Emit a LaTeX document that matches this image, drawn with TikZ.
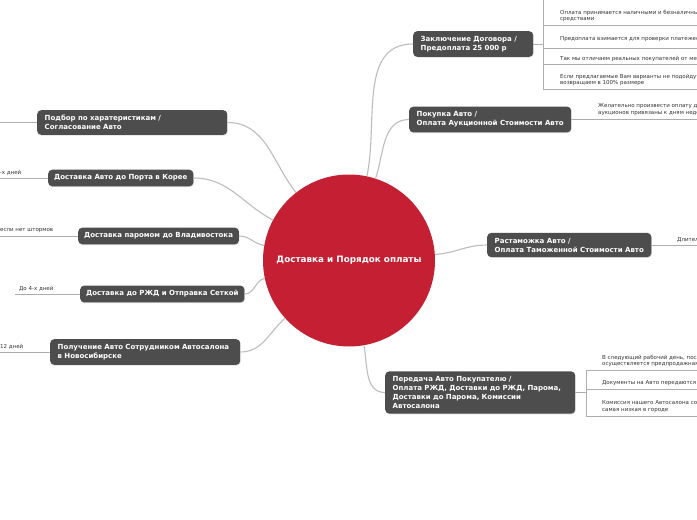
\documentclass[tikz,border=0pt]{standalone}
\usepackage{fontspec}
\setmainfont{DejaVu Sans}
\usetikzlibrary{shadows}
\definecolor{MapRed}{HTML}{C41F33}
\definecolor{MapTopic}{HTML}{4D4D4D}
\definecolor{MapLink}{HTML}{BDBDBD}
\definecolor{MapRule}{HTML}{ADADAD}
\definecolor{MapNote}{HTML}{333333}

\begin{document}
\begin{tikzpicture}[x=1pt,y=1pt,
  hub/.style={circle,fill=MapRed,minimum size=172pt,inner sep=0pt,text=white,font=\fontsize{8.8}{11}\selectfont\bfseries},
  topic/.style={fill=MapTopic,rounded corners=4pt,text=white,align=left,inner xsep=7.5pt,inner ysep=5pt,anchor=west,font=\fontsize{7}{9}\selectfont\bfseries,drop shadow={opacity=0.25,shadow xshift=0.5pt,shadow yshift=-0.8pt}},
  slim/.style={inner xsep=6pt},
  note/.style={anchor=west,inner sep=0pt,align=left,text=MapNote,font=\fontsize{5.5}{6.8}\selectfont},
  link/.style={draw=MapLink,line width=1.1pt},
  rule/.style={draw=MapRule,line width=0.6pt},
]
\useasboundingbox (0,0) rectangle (697,-520);
\fill[white] (0,0) rectangle (697,-520);
\clip (0,0) rectangle (697,-520);

\node[hub] (hub) at (349,-260.5) {\raisebox{-1.5pt}{Доставка и Порядок оплаты}};

\node[topic,text width=105pt] (dogovor) at (413,-44) {Заключение Договора /\\Предоплата 25 000 р};
\node[topic] (pokupka) at (409,-119.5) {Покупка Авто /\\Оплата Аукционной Стоимости Авто};
\node[topic] (rastam) at (487,-245) {Растаможка Авто /\\Оплата Таможенной Стоимости Авто};
\node[topic,text width=175pt] (peredacha) at (385,-392.5) {Передача Авто Покупателю /\\Оплата РЖД, Доставки до РЖД, Парома,\\Доставки до Парома, Комиссии\\Автосалона};

\node[topic,text width=175pt] (podbor) at (37,-122.5) {Подбор по харатеристикам /\\Согласование Авто};
\node[topic,slim] (portkorea) at (48,-178) {Доставка Авто до Порта в Корее};
\node[topic,slim] (parom) at (78,-236) {Доставка паромом до Владивостока};
\node[topic,slim] (rzd) at (80,-294) {Доставка до РЖД и Отправка Сеткой};
\node[topic,text width=175pt] (poluchenie) at (50,-352) {Получение Авто Сотрудником Автосалона\\в Новосибирске};

\draw[link] (hub.78) to[out=78,in=180] (dogovor.west);
\draw[link] (hub.72) to[out=72,in=180] (pokupka.west);
\draw[link] (hub.4) to[out=4,in=180] (rastam.west);
\draw[link] (hub.-80) to[out=-80,in=180] (peredacha.west);
\draw[link] (podbor.east) to[out=0,in=128] (hub.128);
\draw[link] (portkorea.east) to[out=0,in=152] (hub.152);
\draw[link] (parom.east) to[out=0,in=170] (hub.170);
\draw[link] (rzd.east) to[out=0,in=192] (hub.192);
\draw[link] (poluchenie.east) to[out=0,in=222] (hub.222);

\coordinate (dogovorBar) at (543,-44);
\draw[rule] (dogovor.east) -- (dogovorBar);
\draw[rule] (543,0) -- (543,-89);
\foreach \yy in {25,48,64,89}
  \draw[rule] (543,-\yy) -- (697,-\yy);
\node[note] (pay1) at (560,-16) {Оплата принимается наличными и безналичными\\средствами};
\node[note] (pay2) at (560,-39) {Предоплата взимается для проверки платежеспособности};
\node[note] (pay3) at (560,-58.5) {Так мы отличаем реальных покупателей от мечтателей};
\node[note] (pay4) at (560,-80) {Если предлагаемые Вам варианты не подойдут,\\возвращаем в 100\% размере};

\coordinate (pokupkaEnd) at (697,-119.5);
\draw[rule] (pokupka.east) -- (pokupkaEnd);
\node[note] (auction) at (598,-109.5) {Желательно произвести оплату до\\аукционов привязаны к дням недели};

\coordinate (rastamEnd) at (697,-245);
\draw[rule] (rastam.east) -- (rastamEnd);
\node[note] (customs) at (677,-239.5) {Длительность};

\coordinate (peredachaBar) at (586,-392.5);
\draw[rule] (peredacha.east) -- (peredachaBar);
\draw[rule] (586,-370) -- (586,-416);
\foreach \yy in {370,389,416}
  \draw[rule] (586,-\yy) -- (697,-\yy);
\node[note] (hand1) at (602,-361) {В следующий рабочий день, после\\осуществляется предпродажная};
\node[note] (hand2) at (602,-383) {Документы на Авто передаются покупателю};
\node[note] (hand3) at (602,-406.5) {Комиссия нашего Автосалона составляет\\самая низкая в городе};

\coordinate (podborEnd) at (0,-122.5);
\draw[rule] (podborEnd) -- (podbor.west);
\coordinate (portkoreaEnd) at (0,-178);
\draw[rule] (portkoreaEnd) -- (portkorea.west);
\node[note,anchor=east] (days1) at (21.5,-173) {-х дней};
\coordinate (paromEnd) at (0,-236);
\draw[rule] (paromEnd) -- (parom.west);
\node[note] (storm) at (0,-230.5) {если нет штормов};
\coordinate (rzdEnd) at (15,-294);
\draw[rule] (rzdEnd) -- (rzd.west);
\node[note] (days2) at (19,-288.5) {До 4-х дней};
\coordinate (poluchenieEnd) at (0,-352);
\draw[rule] (poluchenieEnd) -- (poluchenie.west);
\node[note,anchor=east] (days3) at (23.5,-347) {-12 дней};
\end{tikzpicture}
\end{document}
